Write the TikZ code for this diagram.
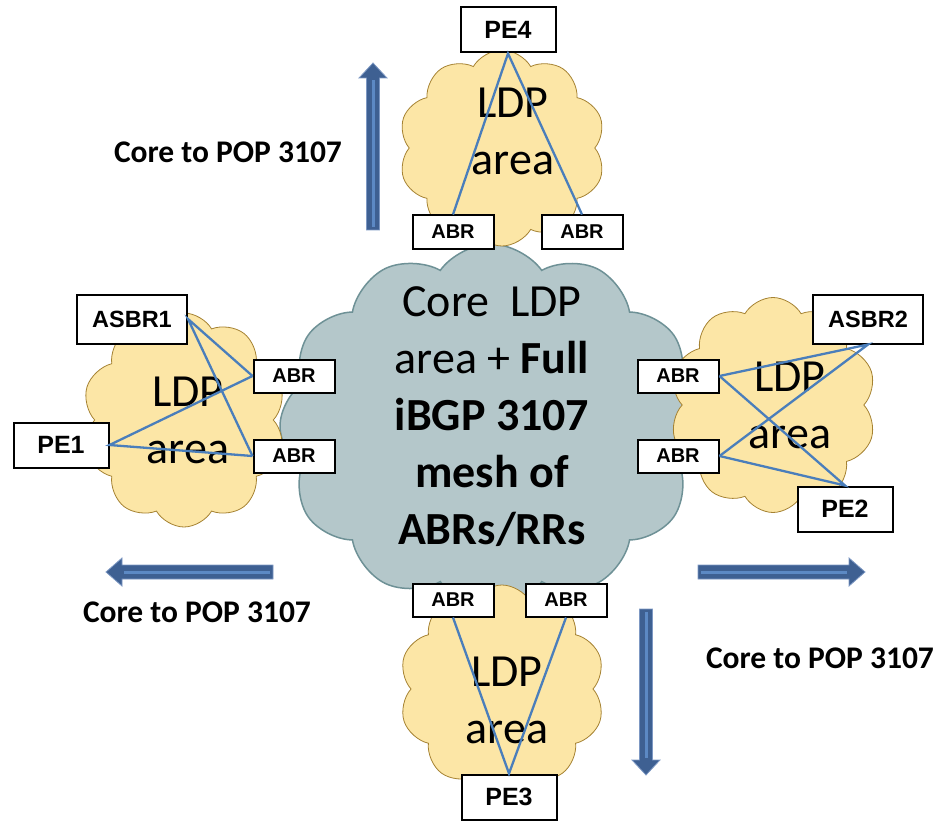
\documentclass[tikz,border=0pt]{standalone}
\usepackage{fontspec}
\setmainfont{Carlito}
\newfontfamily\routerfont{Liberation Sans}
\usetikzlibrary{shapes}

\definecolor{areayellow}{RGB}{252,230,166}
\definecolor{areaedge}{RGB}{165,130,50}
\definecolor{coregray}{RGB}{180,199,202}
\definecolor{coreedge}{RGB}{110,145,150}
\definecolor{linkblue}{RGB}{74,126,187}
\definecolor{arrowblue}{RGB}{62,96,146}
\definecolor{arrowedge}{RGB}{125,152,195}
\definecolor{stripeblue}{RGB}{92,137,196}

\begin{document}
\begin{tikzpicture}
    [
    x = 1pt, y = -1pt,
    area/.style     = {cloud, cloud puffs=10, cloud puff arc=120, cloud ignores aspect,
                       draw=areaedge, line width=0.8pt, fill=areayellow},
    core/.style     = {cloud, cloud puffs=12, cloud puff arc=110, cloud ignores aspect,
                       draw=coreedge, line width=1.5pt, fill=coregray},
    areatext/.style = {align=center, inner sep=0pt, font=\fontsize{46}{57}\selectfont},
    router/.style   = {draw, line width=2pt, fill=white, inner sep=0pt,
                       minimum width=95pt, minimum height=45pt,
                       font=\routerfont\bfseries\fontsize{25}{28}\selectfont},
    abr/.style      = {router, minimum width=81pt, minimum height=33pt,
                       font=\routerfont\bfseries\fontsize{20}{22}\selectfont},
    asbr/.style     = {router, minimum width=110pt, minimum height=49pt,
                       font=\routerfont\bfseries\fontsize{23.5}{26}\selectfont},
    link/.style     = {draw=linkblue, line width=2.3pt},
    flow/.style     = {fill=arrowblue, draw=arrowedge, line width=0.8pt},
    stripe/.style   = {draw=stripeblue, line width=3pt},
    caption/.style  = {inner sep=0pt, font=\bfseries\fontsize{31.5}{36}\selectfont}
    ]
    \useasboundingbox (0,0) rectangle (937,821);

    % clouds
    \node [core, minimum width=422pt, minimum height=364pt] (core) at (491,426) {};
    \node [area, minimum width=207pt, minimum height=196pt] (areaN) at (502,148) {};
    \node [area, minimum width=206pt, minimum height=208pt] (areaS) at (502,689) {};
    \node [area, minimum width=204pt, minimum height=214pt] (areaW) at (184,420) {};
    \node [area, minimum width=207pt, minimum height=215pt] (areaE) at (773,405) {};

    \node [areatext] (coreText) at (492,417)
        {Core\ \ LDP\\area + \textbf{Full}\\\textbf{iBGP 3107}\\\textbf{mesh of}\\\textbf{ABRs/RRs}};
    \node [areatext] (textN) at (513,131) {LDP\\area};
    \node [areatext] (textS) at (507,700) {LDP\\area};
    \node [areatext] (textW) at (188,420) {LDP\\area};
    \node [areatext] (textE) at (790,405) {LDP\\area};

    % routers
    \node [router] (pe4) at (508,30) {PE4};
    \node [abr] (abrN1) at (453,232) {ABR};
    \node [abr] (abrN2) at (582,232) {ABR};
    \node [asbr] (asbr1) at (132,319) {ASBR1};
    \node [router] (pe1) at (61,445) {PE1};
    \node [abr] (abrW1) at (294,376) {ABR};
    \node [abr] (abrW2) at (294,456) {ABR};
    \node [asbr] (asbr2) at (868,319) {ASBR2};
    \node [router] (pe2) at (845,509) {PE2};
    \node [abr] (abrE1) at (678,376) {ABR};
    \node [abr] (abrE2) at (678,456) {ABR};
    \node [abr] (abrS1) at (453,600) {ABR};
    \node [abr] (abrS2) at (566,600) {ABR};
    \node [router] (pe3) at (509,797) {PE3};

    % links
    \draw [link] (abrN1.north) -- (pe4.south) -- (abrN2.north);
    \draw [link] (abrS1.south) -- (pe3.north) -- (abrS2.south);
    \draw [link] (abrW1.west) -- (asbr1.east) -- (abrW2.west);
    \draw [link] (abrW1.west) -- (pe1.east) -- (abrW2.west);
    \draw [link] (abrE1.east) -- (asbr2.south) -- (abrE2.east);
    \draw [link] (abrE1.east) -- (pe2.north) -- (abrE2.east);

    % direction arrows
    \draw [flow] (366.5,230) -- (366.5,78) -- (359,78) -- (373,63) -- (387,78) -- (379.5,78) -- (379.5,230) -- cycle;
    \draw [stripe] (373,227) -- (373,80);
    \draw [flow] (639.5,609) -- (639.5,760) -- (632,760) -- (646,775) -- (660,760) -- (652.5,760) -- (652.5,609) -- cycle;
    \draw [stripe] (646,612) -- (646,758);
    \draw [flow] (273,565) -- (122,565) -- (122,558) -- (106,572) -- (122,586) -- (122,579) -- (273,579) -- cycle;
    \draw [stripe] (270,572) -- (124,572);
    \draw [flow] (698,565) -- (849,565) -- (849,558) -- (865,572) -- (849,586) -- (849,579) -- (698,579) -- cycle;
    \draw [stripe] (701,572) -- (847,572);

    \node [caption] (capN) at (228,152) {Core to POP 3107};
    \node [caption] (capW) at (197,612) {Core to POP 3107};
    \node [caption] (capE) at (820,658) {Core to POP 3107};
\end{tikzpicture}
\end{document}
